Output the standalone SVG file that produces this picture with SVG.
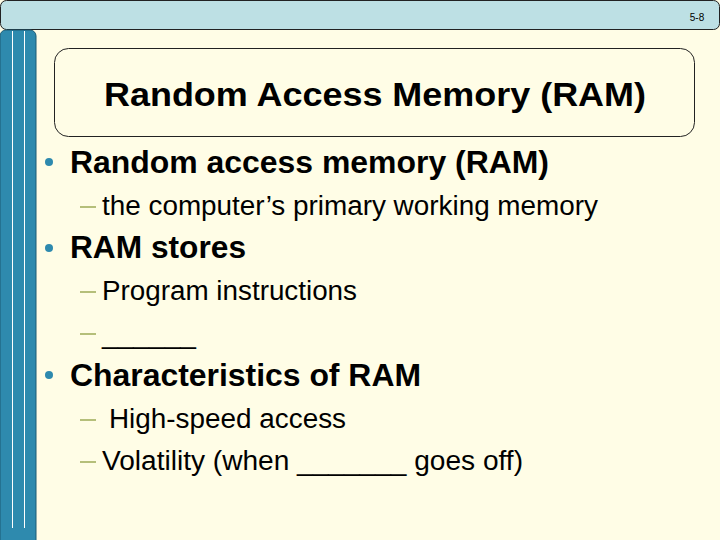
<svg xmlns="http://www.w3.org/2000/svg" width="720" height="540" viewBox="0 0 720 540">
<style>
.b{font-family:"Liberation Sans",Arial,sans-serif;font-weight:bold;font-size:31px;fill:#000}
.s{font-family:"Liberation Sans",Arial,sans-serif;font-size:27px;fill:#000}
.d{fill:#B5BF7A}
.bl{fill:#2E8AAE}
</style>
<rect width="720" height="540" fill="#FFFDE6"/>
<g id="topbar"><rect x="0.5" y="0.5" width="719" height="29" rx="6" fill="#BDE0E4" stroke="#222" stroke-width="1"/>
<text x="697" y="21" font-family="Liberation Sans,sans-serif" font-size="10" text-anchor="middle">5-8</text></g>
<g id="sidebar"><rect x="0" y="30" width="36" height="520" rx="6" fill="#2E8AAE" stroke="#1a5a75"/>
<line x1="12.5" y1="31" x2="12.5" y2="528" stroke="#fff" stroke-width="1"/>
<line x1="24.5" y1="31" x2="24.5" y2="528" stroke="#fff" stroke-width="1"/></g>
<g id="title"><rect x="54.5" y="48.5" width="640" height="88" rx="14" fill="none" stroke="#222"/>
<text x="375" y="106" text-anchor="middle" font-family="Liberation Sans,sans-serif" font-weight="bold" font-size="34" textLength="542" lengthAdjust="spacingAndGlyphs">Random Access Memory (RAM)</text></g>
<g id="body">
<circle class="bl" cx="49" cy="162" r="4"/>
<text class="b" x="70" y="173" textLength="479" lengthAdjust="spacingAndGlyphs">Random access memory (RAM)</text>
<rect class="d" x="80" y="206" width="16" height="2"/>
<text class="s" x="102" y="215" textLength="496" lengthAdjust="spacingAndGlyphs">the computer’s primary working memory</text>
<circle class="bl" cx="49" cy="248" r="4"/>
<text class="b" x="70" y="258" textLength="176" lengthAdjust="spacingAndGlyphs">RAM stores</text>
<rect class="d" x="80" y="291" width="16" height="2"/>
<text class="s" x="102" y="300" textLength="255" lengthAdjust="spacingAndGlyphs">Program instructions</text>
<rect class="d" x="80" y="333" width="16" height="2"/>
<text class="s" x="102" y="343" textLength="94" lengthAdjust="spacingAndGlyphs">______</text>
<circle class="bl" cx="49" cy="375" r="4"/>
<text class="b" x="70" y="386" textLength="351" lengthAdjust="spacingAndGlyphs">Characteristics of RAM</text>
<rect class="d" x="80" y="419" width="16" height="2"/>
<text class="s" x="109" y="428" textLength="237" lengthAdjust="spacingAndGlyphs">High-speed access</text>
<rect class="d" x="80" y="461" width="16" height="2"/>
<text class="s" x="102" y="470" textLength="421" lengthAdjust="spacingAndGlyphs">Volatility (when _______ goes off)</text>
</g>
</svg>
